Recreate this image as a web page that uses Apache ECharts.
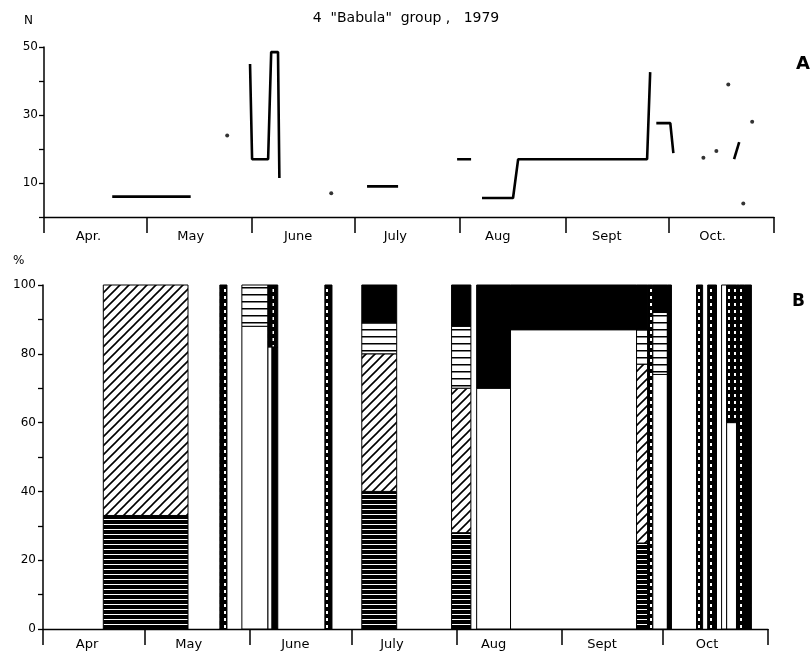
<!DOCTYPE html>
<html>
<head>
    <meta charset="utf-8">
    <title>Babula group 1979</title>
    <script src="https://cdn.jsdelivr.net/npm/echarts@6/dist/echarts.min.js"></script>
    <style>
        body, html {
            margin: 0;
            background: #fff;
        }

        #main {
            width: 812px;
            height: 660px;
        }
    </style>
</head>
<body>
<div id="main"></div>
<script type="text/javascript">
    // x is counted in days from 1 April 1979
    var monthNamesA = ['Apr.', 'May', 'June', 'July', 'Aug', 'Sept', 'Oct.'];
    var monthNamesB = ['Apr', 'May', 'June', 'July', 'Aug', 'Sept', 'Oct'];
    var monthBounds = [0, 30, 61, 91, 122, 153, 183, 214];
    var monthLabelDays = [13, 43, 74.5, 103, 133, 165, 196];

    // panel A : group size N, broken line pieces
    var sizeSegments = [
        [[20, 6], [43, 6]],
        [[60.4, 45], [61, 17], [65.7, 17], [66.6, 48.5], [68.6, 48.5], [69, 11.5]],
        [[94.7, 9], [103.8, 9]],
        [[121.1, 17], [125.2, 17]],
        [[128.4, 5.6], [137.5, 5.6], [139, 17], [176.8, 17], [177.7, 42.6]],
        [[179.5, 27.6], [183.6, 27.6], [184.5, 18.8]],
        [[202.3, 17], [203.8, 22]]
    ];
    var sizeDots = [[53.7, 24], [84.2, 7], [193.3, 17.4], [197.1, 19.4], [200.6, 39], [205, 4], [207.6, 28]];

    // panel B : % composition, bars spanning [from day, to day]
    var barSpans = [
        [17.8, 42.8], [52.2, 54.3], [58.7, 66.4], [66.4, 67.6], [67.6, 69.3],
        [83.2, 85.3], [94.1, 104.4], [120.6, 126.3], [128, 138], [138, 175.2],
        [175.2, 178.5], [178.5, 180], [180, 184.3], [184.3, 185.5],
        [192.9, 194.7], [196.2, 198.8], [200.3, 201.8], [201.8, 204.7],
        [204.7, 205.6], [205.6, 207.1], [207.1, 209.1]
    ];
    var barParts = [
        [['hstripe', 0, 33], ['hatch', 33, 100]],
        [['tiles', 0, 100]],
        [['white', 0, 88], ['lines', 88, 100]],
        [['white', 0, 82], ['tiles', 82, 100]],
        [['black', 0, 82], ['tiles', 82, 100]],
        [['tiles', 0, 100]],
        [['hstripe', 0, 40], ['hatch', 40, 80], ['lines', 80, 89], ['black', 89, 100]],
        [['hstripe', 0, 28], ['hatch', 28, 70], ['lines', 70, 88], ['black', 88, 100]],
        [['white', 0, 70], ['black', 70, 100]],
        [['white', 0, 87], ['black', 87, 100]],
        [['hstripe', 0, 25], ['hatch', 25, 77], ['lines', 77, 87], ['black', 87, 100]],
        [['tiles', 0, 100]],
        [['white', 0, 74], ['lines', 74, 92], ['black', 92, 100]],
        [['black', 0, 100]],
        [['tiles', 0, 100]],
        [['tiles', 0, 100]],
        [['white', 0, 100]],
        [['white', 0, 60], ['tiles', 60, 100]],
        [['black', 0, 100]],
        [['tiles', 0, 100]],
        [['black', 0, 100]]
    ];

    var FONT = '"DejaVu Sans", sans-serif';

    function makePattern(kind) {
        var c = document.createElement('canvas');
        var ctx = c.getContext('2d');
        if (kind === 'hstripe') {
            c.width = 8; c.height = 5;
            ctx.fillStyle = '#000'; ctx.fillRect(0, 0, 8, 5);
            ctx.fillStyle = '#fff'; ctx.fillRect(0, 4, 8, 1);
        } else if (kind === 'hatch') {
            c.width = 9; c.height = 9;
            ctx.fillStyle = '#fff'; ctx.fillRect(0, 0, 9, 9);
            ctx.strokeStyle = '#000'; ctx.lineWidth = 1.6;
            ctx.beginPath();
            ctx.moveTo(-1, 10); ctx.lineTo(10, -1);
            ctx.moveTo(-2, 2); ctx.lineTo(2, -2);
            ctx.moveTo(7, 11); ctx.lineTo(11, 7);
            ctx.stroke();
        } else if (kind === 'lines') {
            c.width = 8; c.height = 7;
            ctx.fillStyle = '#fff'; ctx.fillRect(0, 0, 8, 7);
            ctx.fillStyle = '#000'; ctx.fillRect(0, 0, 8, 1.5);
        } else if (kind === 'tiles') {
            c.width = 6; c.height = 7;
            ctx.fillStyle = '#000'; ctx.fillRect(0, 0, 6, 7);
            ctx.fillStyle = '#fff'; ctx.fillRect(2, 2, 2, 3);
        }
        return {image: c, repeat: 'repeat'};
    }

    var fills = {
        black: '#000',
        white: '#fff',
        hstripe: makePattern('hstripe'),
        hatch: makePattern('hatch'),
        lines: makePattern('lines'),
        tiles: makePattern('tiles')
    };
    var kinds = ['black', 'white', 'hstripe', 'hatch', 'lines', 'tiles'];

    // flatten bars into rect pieces [x0, x1, y0, y1, kindIndex]
    var pieces = [];
    for (var i = 0; i < barSpans.length; i++) {
        for (var j = 0; j < barParts[i].length; j++) {
            var p = barParts[i][j];
            pieces.push([barSpans[i][0], barSpans[i][1], p[1], p[2], kinds.indexOf(p[0])]);
        }
    }

    function monthAxis(gridIndex, names, margin) {
        return {
            type: 'value',
            gridIndex: gridIndex,
            min: 0,
            max: 214,
            splitLine: {show: false},
            axisLine: {lineStyle: {color: '#000', width: 1.3}},
            axisTick: {
                show: true,
                customValues: monthBounds,
                length: 16,
                lineStyle: {color: '#000', width: 1.5}
            },
            axisLabel: {
                customValues: monthLabelDays,
                margin: margin,
                color: '#000',
                fontFamily: FONT,
                fontSize: 13,
                formatter: function (v) {
                    var k = monthLabelDays.indexOf(v);
                    return k >= 0 ? names[k] : '';
                }
            }
        };
    }

    var series = [];
    sizeSegments.forEach(function (seg) {
        series.push({
            type: 'line',
            xAxisIndex: 0,
            yAxisIndex: 0,
            data: seg,
            showSymbol: false,
            symbol: 'none',
            lineStyle: {color: '#000', width: 2.6},
            animation: false,
            silent: true
        });
    });
    series.push({
        type: 'scatter',
        xAxisIndex: 0,
        yAxisIndex: 0,
        data: sizeDots,
        symbolSize: 4,
        itemStyle: {color: '#000'},
        animation: false
    });
    series.push({
        type: 'custom',
        xAxisIndex: 1,
        yAxisIndex: 1,
        data: pieces,
        encode: {x: [0, 1], y: [2, 3]},
        animation: false,
        renderItem: function (params, api) {
            var a = api.coord([api.value(0), api.value(3)]);
            var b = api.coord([api.value(1), api.value(2)]);
            return {
                type: 'rect',
                shape: {x: a[0], y: a[1], width: b[0] - a[0], height: b[1] - a[1]},
                style: {fill: fills[kinds[api.value(4)]], stroke: '#000', lineWidth: 1}
            };
        }
    });

    var myChart = echarts.init(document.getElementById('main'));

    var option = {
        backgroundColor: '#fff',
        animation: false,
        title: {
            text: '4  "Babula"  group ,   1979',
            left: 'center',
            top: 6,
            textStyle: {fontFamily: FONT, fontSize: 14, fontWeight: 'normal', color: '#000'}
        },
        graphic: [
            {type: 'text', left: 24, top: 15, style: {text: 'N', font: '12px ' + FONT, fill: '#000'}},
            {type: 'text', left: 13, top: 255, style: {text: '%', font: '12px ' + FONT, fill: '#000'}},
            {type: 'text', left: 796, top: 55, style: {text: 'A', font: 'bold 18px ' + FONT, fill: '#000'}},
            {type: 'text', left: 792, top: 293, style: {text: 'B', font: 'bold 17px ' + FONT, fill: '#000'}}
        ],
        grid: [
            {left: 44, top: 47, width: 730, height: 170},
            {left: 43, top: 285, width: 725, height: 344}
        ],
        xAxis: [
            monthAxis(0, monthNamesA, 13),
            monthAxis(1, monthNamesB, 9)
        ],
        yAxis: [
            {
                type: 'value',
                gridIndex: 0,
                min: 0,
                max: 50,
                interval: 10,
                splitLine: {show: false},
                axisLine: {show: true, lineStyle: {color: '#000', width: 1.5}},
                axisTick: {show: true, length: 5, lineStyle: {color: '#000', width: 1.3}},
                axisLabel: {
                    color: '#000', fontFamily: FONT, fontSize: 12, margin: 6,
                    formatter: function (v) { return (v / 10) % 2 === 1 ? v : ''; }
                }
            },
            {
                type: 'value',
                gridIndex: 1,
                min: 0,
                max: 100,
                interval: 10,
                splitLine: {show: false},
                axisLine: {show: true, lineStyle: {color: '#000', width: 1.5}},
                axisTick: {show: true, length: 5, lineStyle: {color: '#000', width: 1.3}},
                axisLabel: {
                    color: '#000', fontFamily: FONT, fontSize: 12, margin: 7,
                    formatter: function (v) { return v % 20 === 0 ? v : ''; }
                }
            }
        ],
        series: series
    };

    myChart.setOption(option);
</script>
</body>
</html>
